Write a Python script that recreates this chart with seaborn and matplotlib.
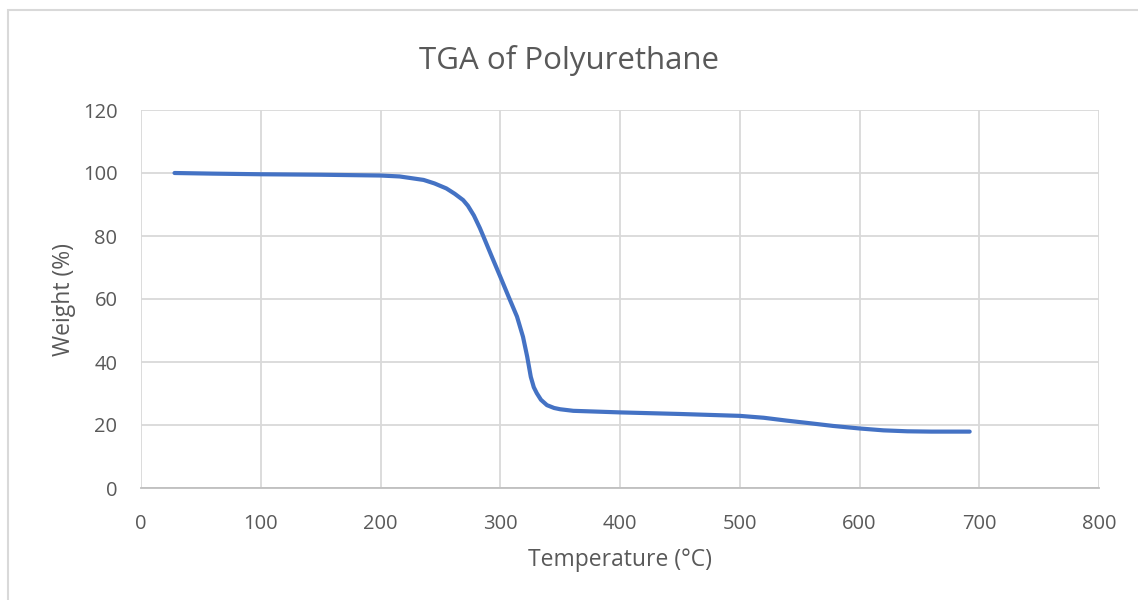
import matplotlib
matplotlib.use("Agg")
import matplotlib.pyplot as plt
import seaborn as sns
import pandas as pd
from matplotlib.patches import Rectangle

# Thermogravimetric curve: temperature (°C) vs remaining weight (%)
temperature = [28, 60, 100, 150, 200, 216, 236, 245, 255, 262, 269, 273, 278, 283,
               286, 293, 300, 307, 314, 319, 322.5, 325.5, 328, 330.5, 334, 339,
               345, 350, 361, 400, 450, 500, 520, 539, 560, 578, 600, 620, 640,
               660, 692]
weight = [100.0, 99.8, 99.6, 99.45, 99.2, 98.9, 97.8, 96.7, 95.1, 93.4, 91.4, 89.6,
          86.5, 82.5, 79.8, 73.4, 67.1, 60.7, 54.4, 48.0, 41.7, 35.3, 32.0, 30.1,
          28.0, 26.3, 25.4, 25.0, 24.5, 24.0, 23.5, 22.9, 22.3, 21.4, 20.5, 19.7,
          18.9, 18.3, 18.0, 17.9, 17.9]

x_ticks = [0, 100, 200, 300, 400, 500, 600, 700, 800]
y_ticks = [0, 20, 40, 60, 80, 100, 120]

df = pd.DataFrame({"Temperature": temperature, "Weight": weight})

sns.set_theme(style="white")
plt.rcParams["font.family"] = ["Open Sans", "DejaVu Sans"]

text_color = "#595959"
grid_color = "#d9d9d9"

fig = plt.figure(figsize=(11.38, 6.0), dpi=100)
ax = fig.add_axes([141 / 1138, 112 / 600, 958 / 1138, 378 / 600])

# light chart-area frame
fig.patches.append(Rectangle((8 / 1138, -0.1), 1.2, 590 / 600 + 0.1,
                             transform=fig.transFigure, fill=False,
                             edgecolor=grid_color, linewidth=1.5, zorder=0))

sns.lineplot(data=df, x="Temperature", y="Weight", ax=ax, color="#4472C4",
             linewidth=3.0, sort=False)
ax.lines[0].set_solid_joinstyle("round")
ax.lines[0].set_solid_capstyle("round")

ax.set_xlim(0, 800)
ax.set_ylim(0, 120)
ax.set_xticks(x_ticks)
ax.set_yticks(y_ticks)
ax.grid(True, color=grid_color, linewidth=1.3)
for side in ["top", "right", "left"]:
    ax.spines[side].set_visible(False)
ax.spines["bottom"].set_color("#bfbfbf")
ax.spines["bottom"].set_linewidth(1.3)
ax.tick_params(axis="both", length=0, labelsize=14.5, colors=text_color)
ax.tick_params(axis="x", pad=19)
ax.tick_params(axis="y", pad=17)

ax.set_xlabel("Temperature (°C)", fontsize=16.5, color=text_color, labelpad=10)
ax.set_ylabel("Weight (%)", fontsize=16.5, color=text_color, labelpad=5)
fig.text(569 / 1138, 1 - 60 / 600, "TGA of Polyurethane", fontsize=22.5,
         color=text_color, ha="center", va="center")

fig.savefig("out.png", dpi=100)
